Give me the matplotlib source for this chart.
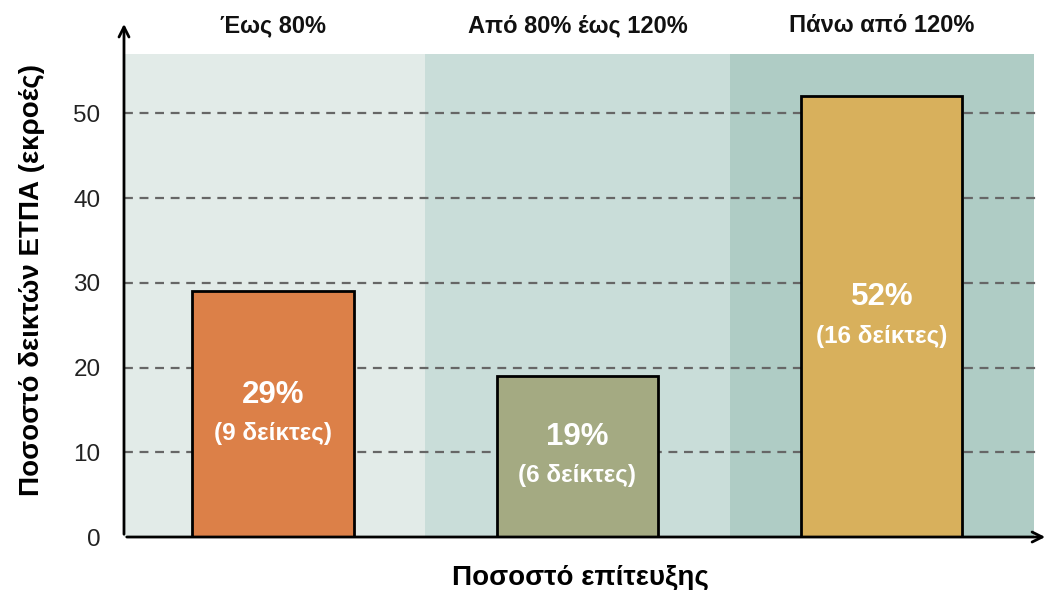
import numpy as np
import matplotlib
matplotlib.use("Agg")
import matplotlib.pyplot as plt

# data
categories = ['Έως 80%', 'Από 80% έως 120%', 'Πάνω από 120%']
shares = [29, 19, 52]
counts = [9, 6, 16]
bar_colors = ['#dc8048', '#a4aa82', '#d8b05c']
band_colors = ['#e2ebe8', '#c9ddd9', '#afccc5']
yticks = [0, 10, 20, 30, 40, 50]

plt.rcParams['font.family'] = ['Liberation Sans', 'DejaVu Sans']

fig = plt.figure(figsize=(10.49, 5.90), dpi=100)
ax = fig.add_axes([0.1182, 0.0898, 0.8704, 0.8187])

x = np.arange(len(categories))
ax.set_xlim(-0.49, 2.51)
ax.set_ylim(0, 57)

# background bands per category
for i, c in enumerate(band_colors):
    ax.axvspan(i - 0.5, i + 0.5, color=c, lw=0, zorder=0)

# dashed gridlines
for t in yticks[1:]:
    ax.axhline(t, color='#666666', lw=1.6, ls=(0, (4, 3)), zorder=1)

ax.bar(x, shares, width=0.53, color=bar_colors, edgecolor='black', linewidth=2, zorder=3)

for xi, s, n in zip(x, shares, counts):
    ax.annotate(f'{s}%', (xi, s / 2), xytext=(0, 14), textcoords='offset points',
                ha='center', va='center', color='white', fontsize=22.5, fontweight='bold', zorder=4)
    ax.annotate(f'({n} δείκτες)', (xi, s / 2), xytext=(0, -14), textcoords='offset points',
                ha='center', va='center', color='white', fontsize=17.5, fontweight='bold', zorder=4)

# category headers above the plot
for xi, c in zip(x, categories):
    ax.text(xi, 1.058, c, transform=ax.get_xaxis_transform(), ha='center', va='center',
            fontsize=17, fontweight='bold', color='#111111')

ax.set_xticks([])
ax.set_yticks(yticks)
ax.set_yticklabels([str(t) for t in yticks], fontsize=17.5, color='#222222')
ax.tick_params(axis='y', length=0, pad=17)

for s in ax.spines.values():
    s.set_visible(False)

# axes with arrows
ax.annotate('', xy=(0, 1.068), xytext=(0, 0), xycoords='axes fraction',
            arrowprops=dict(arrowstyle='->', lw=2, color='black', mutation_scale=18), annotation_clip=False)
ax.annotate('', xy=(1.012, 0), xytext=(0, 0), xycoords='axes fraction',
            arrowprops=dict(arrowstyle='->', lw=2, color='black', mutation_scale=18), annotation_clip=False)

ax.set_ylabel('Ποσοστό δεικτών ΕΤΠΑ (εκροές)', fontsize=20, fontweight='bold')
ax.yaxis.set_label_coords(-0.087, 0.532)
ax.set_xlabel('Ποσοστό επίτευξης', fontsize=20, fontweight='bold', labelpad=20)

fig.savefig('out.png', dpi=100)
